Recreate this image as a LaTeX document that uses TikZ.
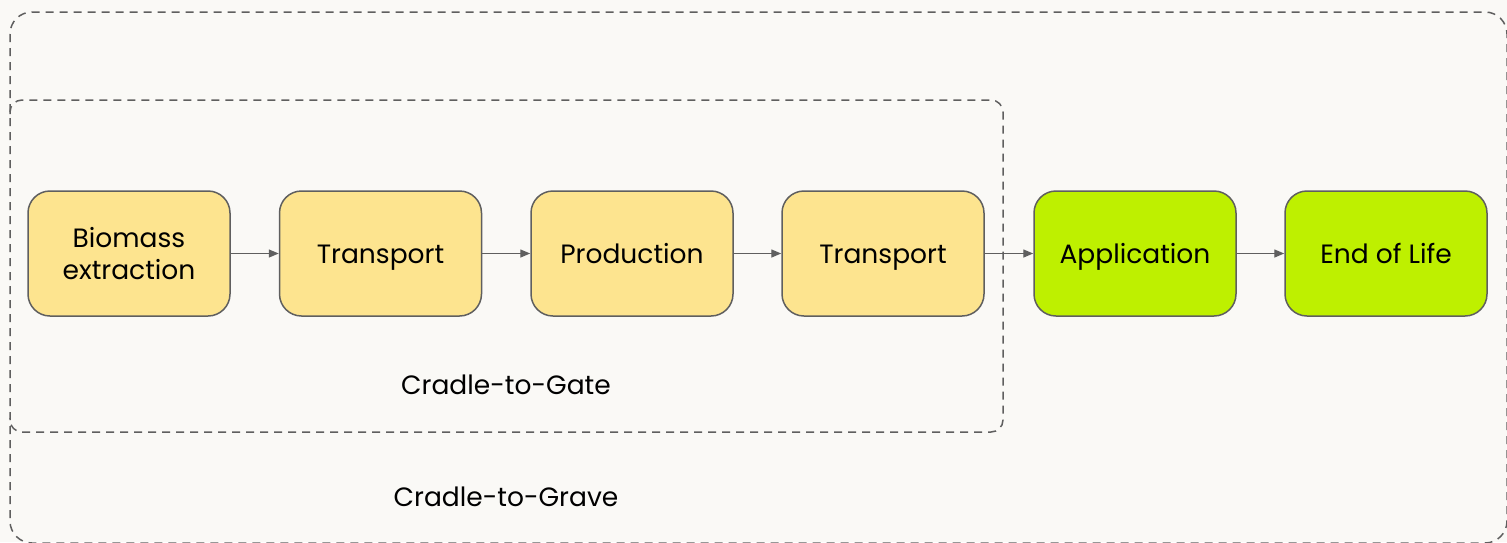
\documentclass[tikz,border=0pt]{standalone}
\usepackage{fontspec}
\setmainfont{Poppins}
\usetikzlibrary{arrows.meta}
\definecolor{bg}{HTML}{FAF9F6}
\definecolor{boxy}{HTML}{FDE48F}
\definecolor{boxg}{HTML}{BEF000}
\definecolor{edge}{HTML}{5F5F5F}
\tikzset{
  stage/.style={draw=edge, line width=1.5pt, rounded corners=22pt, minimum width=202pt, minimum height=125pt, inner sep=0pt, align=center, font=\fontsize{26.5}{32}\selectfont, text=black, text height=22pt, text depth=3pt},
  ystage/.style={stage, fill=boxy},
  gstage/.style={stage, fill=boxg},
  flow/.style={draw=edge, line width=1.4pt, -{Triangle[length=10pt,width=8pt]}},
  frame/.style={draw=edge, line width=1.5pt, dash pattern=on 8pt off 6pt},
  lbl/.style={font=\fontsize{26.5}{32}\selectfont, text=black, text height=22pt, text depth=3pt}
}
\begin{document}
\begin{tikzpicture}[x=1pt,y=-1pt]
\useasboundingbox (0,0) rectangle (1507,542);
\fill[bg] (0,0) rectangle (1507,542);
\draw[frame, rounded corners=22pt] (10,12) rectangle (1507,543);
\draw[frame, rounded corners=12pt] (10,114) -- (10,100) -- (1003,100) -- (1003,432) -- (10,432) -- (10,418);
\node[ystage, text height=, text depth=] (bio) at (129,253.5) {\vphantom{p}Biomass\\extraction};
\node[ystage] (t1) at (380.5,253.5) {Transport};
\node[ystage] (prod) at (632,253.5) {Production};
\node[ystage] (t2) at (883,253.5) {Transport};
\node[gstage] (app) at (1135,253.5) {Application};
\node[gstage] (eol) at (1386,253.5) {End of Life};
\draw[flow] (bio) -- (t1);
\draw[flow] (t1) -- (prod);
\draw[flow] (prod) -- (t2);
\draw[flow] (t2) -- (app);
\draw[flow] (app) -- (eol);
\node[lbl] (gate) at (506,385) {Cradle-to-Gate};
\node[lbl] (grave) at (506,497) {Cradle-to-Grave};
\end{tikzpicture}
\end{document}
